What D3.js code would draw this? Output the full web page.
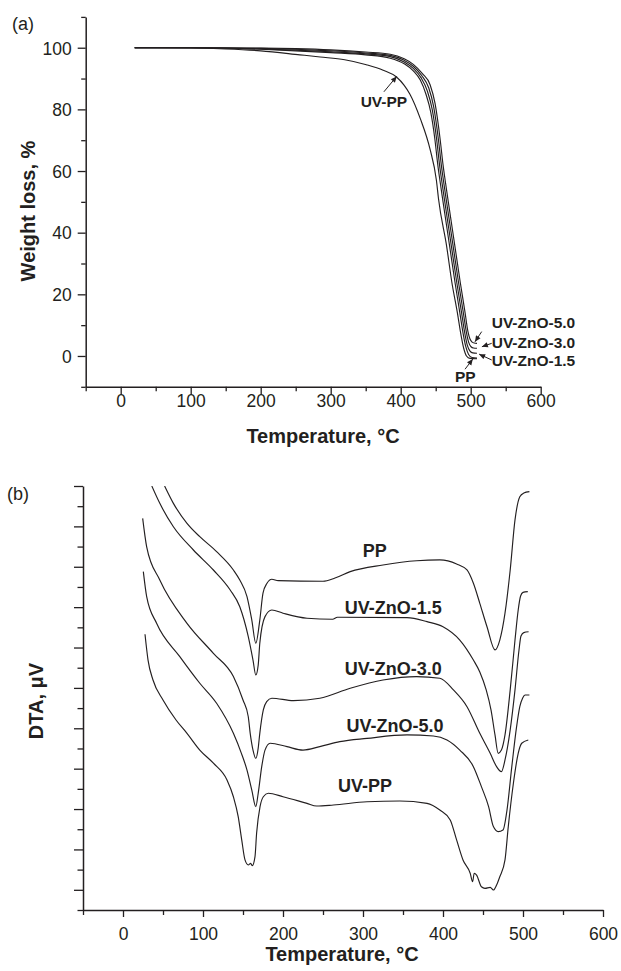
<!DOCTYPE html>
<html>
<head>
<meta charset="utf-8">
<script src="https://cdn.jsdelivr.net/npm/d3@7"></script>
<style>
  body { margin: 0; background: #fff; }
  svg { display: block; }
  text { font-family: "Liberation Sans", Arial, Helvetica, sans-serif; fill: #231f20; }
</style>
</head>
<body>
<svg id="fig" width="621" height="971"></svg>
<script>
// ---------- (a) TGA: temperature (°C) vs weight (%) ----------
const tgaPP = [[20,100],[100,100],[200,99.5],[250,99],[300,98.4],[350,97.7],[385,96.6],[405,94.8],[418,92.5],[428,89.5],[436,85],[443,79],[449,70],[453,62],[456,57],[460.5,50],[470,35.5],[477.5,24],[484.5,14],[489,7.5],[493,3],[497,0.5],[502,-0.5],[509,-0.7]];
const tgaZnO15 = [[20,100],[100,100],[200,99.6],[250,99.2],[300,98.7],[350,98],[385,97.1],[405,95.4],[418,93.3],[429,90.3],[438,86],[445,80],[451.5,70],[455.5,62],[458.5,57],[463,50],[472.5,35.5],[480,24],[487,14],[491.5,7.5],[495,3.6],[499,1.6],[503,1.0],[509,0.9]];
const tgaZnO30 = [[20,100],[100,100],[200,99.8],[250,99.5],[300,99],[350,98.3],[385,97.5],[405,95.9],[418,94],[430,91],[440,87],[447,81],[454,70],[458,62],[461,57],[465.5,50],[475,35.5],[482.5,24],[489.5,14],[494,7.5],[497,4.5],[500.5,3.0],[504,2.6],[509,2.5]];
const tgaZnO50 = [[20,100],[100,100],[200,99.9],[250,99.7],[300,99.3],[350,98.6],[385,97.9],[405,96.4],[418,94.6],[431,91.6],[442,88],[449,82],[456.5,70],[460.5,62],[463.5,57],[468,50],[477.5,35.5],[485,24],[492,14],[496,8],[499,5.5],[502,4.5],[505,4.2],[509,4.1]];
const tgaUVPP = [[20,100],[100,99.9],[150,99.6],[200,99],[256,97.7],[285,97],[320,96.1],[351,94.5],[375,92.7],[394,90.5],[405,87.8],[413,85],[428,77],[442,67],[451,57],[454,51],[465.7,35.5],[473,24],[481,14],[486,7],[490,2.5],[494,0],[499,-0.8],[509,-0.9]];

// ---------- (b) DTA: temperature (°C) vs signal (arbitrary tick units) ----------
const dtaPP = [[52,21.0],[63,20.14],[80,19.15],[96,18.49],[117,17.75],[138,16.84],[146,16.34],[155,15.52],[161,14.36],[166,13.21],[171,14.36],[175,15.69],[180,16.18],[186,16.38],[194,16.31],[250,16.28],[265,16.44],[284,16.76],[325,17.09],[367,17.30],[396,17.34],[417,17.14],[430,16.84],[438,16.18],[446,15.19],[455,14.03],[465,12.88],[471,13.37],[477.5,14.70],[484,16.84],[490,19.32],[496,20.47],[501,20.65],[508,20.72]];
const dtaZnO15 = [[36,21.0],[46,20.14],[63,18.98],[88,17.83],[113,16.84],[134,15.85],[146,15.02],[156.6,13.54],[162.5,12.38],[166,11.64],[169,12.13],[171,13.21],[177.5,14.53],[186,14.86],[200,14.70],[230,14.45],[262,14.40],[268,14.50],[355,14.48],[380,14.28],[400,14.03],[421,13.37],[438,12.38],[446,11.79],[454,10.90],[460,9.91],[465,8.67],[469,7.76],[473,7.92],[477.5,8.67],[484,10.90],[490,13.37],[494,14.86],[497,15.55],[500,15.73],[506,15.77]];
const dtaZnO30 = [[24.6,19.40],[29.6,17.99],[46,16.34],[80,14.20],[113,12.71],[138,11.56],[150,10.40],[156.6,9.57],[159,8.75],[162.5,7.92],[166,7.51],[169,8.02],[171,8.75],[175.4,9.91],[179.6,10.32],[186,10.49],[213,10.37],[246,10.49],[284,10.98],[325,11.39],[367,11.56],[396,11.48],[413,10.90],[430,10.07],[446,8.75],[459,7.76],[467,7.10],[473,6.85],[477.5,7.43],[484,8.92],[490,10.90],[495,12.88],[497.5,13.57],[501,13.74],[507,13.78]];
const dtaZnO50 = [[25.4,16.76],[29.6,15.52],[42,14.20],[71,12.55],[96,11.23],[117,10.24],[138,8.75],[148,7.76],[155,6.93],[161,5.94],[166,5.12],[169,5.78],[173.4,7.10],[177.5,7.92],[184,8.26],[205,8.09],[225,7.92],[246,8.09],[271,8.34],[305,8.50],[355,8.67],[388,8.62],[405,8.42],[421,7.92],[438,7.10],[448,6.11],[457,5.12],[463,4.13],[469,3.88],[475,3.96],[480,4.95],[486,7.10],[492,9.08],[496,10.07],[499.6,10.50],[502.5,10.65],[508,10.65]];
const dtaUVPP = [[27.5,13.66],[31.3,12.38],[37.5,11.39],[50,10.40],[66.3,9.41],[80,8.75],[96,7.92],[113,7.27],[130,6.44],[138,5.61],[144,4.62],[148.4,3.47],[152.5,2.48],[156.6,2.23],[159.6,2.31],[161.6,2.19],[165,2.64],[167,3.80],[171.3,5.12],[175.4,5.61],[181.6,5.78],[200,5.61],[230,5.28],[242,5.15],[263,5.20],[305,5.36],[346,5.40],[380,5.28],[396,4.95],[409,4.46],[417,3.47],[425,2.48],[434,1.82],[437,1.40],[439,1.82],[442,1.73],[448,1.15],[452.5,1.07],[459,1.12],[463,0.99],[467,1.24],[471,1.65],[477.5,2.48],[481.6,4.13],[488,6.28],[494,7.76],[498.4,8.26],[506.6,8.42]];

// ---------- tick values ----------
const tempTicks = [0, 100, 200, 300, 400, 500, 600];
const tempMinorTicks = [-50, 50, 150, 250, 350, 450, 550];
const weightTicks = [0, 20, 40, 60, 80, 100];
const weightMinorTicks = [-10, 10, 30, 50, 70, 90, 110];
const dtaMajorTicks = [1, 3, 5, 7, 9, 11, 13, 15, 17, 19, 21];
const dtaMinorTicks = [0, 2, 4, 6, 8, 10, 12, 14, 16, 18, 20];

const ink = '#231f20';
const svg = d3.select('#fig');

svg.append('defs').append('marker')
  .attr('id', 'arrowhead')
  .attr('viewBox', '0 0 10 10')
  .attr('refX', 10).attr('refY', 5)
  .attr('markerWidth', 7).attr('markerHeight', 6)
  .attr('markerUnits', 'userSpaceOnUse')
  .attr('orient', 'auto')
  .append('path').attr('d', 'M0,0.5 L10,5 L0,9.5 Z').attr('fill', ink);

function styleAxis(g, keepDomain) {
  g.attr('font-size', null).attr('font-family', null);
  g.selectAll('.tick line').attr('stroke', ink).attr('stroke-width', 1.3);
  if (keepDomain) g.select('path.domain').attr('stroke', ink).attr('stroke-width', 1.5);
  else g.select('path.domain').remove();
  g.selectAll('.tick text').attr('fill', ink).attr('font-size', 17.5);
}

function drawPanel(cfg) {
  const { x, y, xMajor, xMinor, yMajor, yMinor, yMajorLen, yMinorLen, xMajorLen, xMinorLen, yLabels, xLabelY } = cfg;
  const x0 = x.range()[0], yb = y.range()[0];

  // bottom axis
  svg.append('g').attr('transform', `translate(0,${yb})`)
    .call(d3.axisBottom(x).tickValues(xMinor).tickSize(xMinorLen).tickSizeOuter(0).tickFormat(''))
    .call(g => styleAxis(g, false));
  svg.append('g').attr('transform', `translate(0,${yb})`)
    .call(d3.axisBottom(x).tickValues(xMajor).tickSize(xMajorLen).tickSizeOuter(0).tickFormat(d3.format('d')))
    .call(g => styleAxis(g, true))
    .call(g => g.selectAll('.tick text').attr('y', xLabelY).attr('dy', null));

  // left axis
  svg.append('g').attr('transform', `translate(${x0},0)`)
    .call(d3.axisLeft(y).tickValues(yMinor).tickSize(yMinorLen).tickSizeOuter(0).tickFormat(''))
    .call(g => styleAxis(g, false));
  svg.append('g').attr('transform', `translate(${x0},0)`)
    .call(d3.axisLeft(y).tickValues(yMajor).tickSize(yMajorLen).tickSizeOuter(0).tickPadding(6)
      .tickFormat(yLabels ? d3.format('d') : ''))
    .call(g => styleAxis(g, true))
    .call(g => g.selectAll('.tick text').attr('dy', '0.36em'));
}

function drawCurves(x, y, series, clipId) {
  const [xa, xb] = x.range(), [ya, yb] = y.range();
  svg.select('defs').append('clipPath').attr('id', clipId)
    .append('rect').attr('x', xa).attr('y', yb).attr('width', xb - xa).attr('height', ya - yb);
  const line = d3.line().x(d => x(d[0])).y(d => y(d[1])).curve(d3.curveMonotoneX);
  svg.append('g').attr('clip-path', `url(#${clipId})`)
    .selectAll('path').data(series).join('path')
    .attr('d', line)
    .attr('fill', 'none')
    .attr('stroke', ink)
    .attr('stroke-width', 1.15)
    .attr('stroke-linejoin', 'round');
}

function label(txt, px, py, size, anchor) {
  svg.append('text').attr('x', px).attr('y', py)
    .attr('font-size', size).attr('font-weight', 'bold')
    .attr('text-anchor', anchor || 'start').text(txt);
}

function arrow(x1, y1, x2, y2) {
  svg.append('line').attr('x1', x1).attr('y1', y1).attr('x2', x2).attr('y2', y2)
    .attr('stroke', ink).attr('stroke-width', 1)
    .attr('marker-end', 'url(#arrowhead)');
}

// ===== Panel (a) =====
const xA = d3.scaleLinear().domain([-50, 600]).range([85.7, 540.7]);
const yA = d3.scaleLinear().domain([-10, 110]).range([386.8, 16.9]);

drawPanel({ x: xA, y: yA, xMajor: tempTicks, xMinor: tempMinorTicks,
  yMajor: weightTicks, yMinor: weightMinorTicks,
  yMajorLen: 8, yMinorLen: 4.5, xMajorLen: 8, xMinorLen: 4.5, yLabels: true, xLabelY: 19.8 });
drawCurves(xA, yA, [tgaPP, tgaZnO15, tgaZnO30, tgaZnO50, tgaUVPP], 'clipA');

// curve annotations
label('UV-PP', xA(376), yA(80.8), 15.5, 'middle');
arrow(xA(376), yA(85.7), xA(394.3), yA(90.7));
label('UV-ZnO-5.0', xA(530), yA(9.1), 15.5);
arrow(xA(515.7), yA(7.9), xA(506.1), yA(4.6));
label('UV-ZnO-3.0', xA(530), yA(2.6), 15.5);
arrow(xA(530), yA(4.1), xA(516), yA(3.0));
label('UV-ZnO-1.5', xA(530), yA(-3.1), 15.5);
arrow(xA(530), yA(-1.3), xA(512), yA(0.6));
label('PP', xA(477.6), yA(-8.3), 15.5);
arrow(xA(491.9), yA(-4.3), xA(503), yA(-1.0));

svg.append('text').attr('x', 12).attr('y', 30).attr('font-size', 18).text('(a)');
svg.append('text').attr('transform', 'translate(35,211) rotate(-90)')
  .attr('text-anchor', 'middle').attr('font-size', 20).attr('font-weight', 'bold')
  .text('Weight loss, %');
svg.append('text').attr('x', 323).attr('y', 443)
  .attr('text-anchor', 'middle').attr('font-size', 20).attr('font-weight', 'bold')
  .text('Temperature, °C');

// ===== Panel (b) =====
const xB = d3.scaleLinear().domain([-50, 600]).range([83, 603]);
const yB = d3.scaleLinear().domain([0, 21]).range([910, 486]);

drawPanel({ x: xB, y: yB, xMajor: tempTicks, xMinor: tempMinorTicks,
  yMajor: dtaMajorTicks, yMinor: dtaMinorTicks,
  yMajorLen: 9, yMinorLen: 5.5, xMajorLen: 7, xMinorLen: 5, yLabels: false, xLabelY: 30 });
drawCurves(xB, yB, [dtaPP, dtaZnO15, dtaZnO30, dtaZnO50, dtaUVPP], 'clipB');

label('PP', xB(314.6), yB(17.48), 18, 'middle');
label('UV-ZnO-1.5', xB(337.9), yB(14.66), 18, 'middle');
label('UV-ZnO-3.0', xB(337.9), yB(11.64), 18, 'middle');
label('UV-ZnO-5.0', xB(340), yB(8.83), 18, 'middle');
label('UV-PP', xB(302.5), yB(5.86), 18, 'middle');

svg.append('text').attr('x', 7).attr('y', 500).attr('font-size', 18).text('(b)');
svg.append('text').attr('transform', 'translate(43,701) rotate(-90)')
  .attr('text-anchor', 'middle').attr('font-size', 20).attr('font-weight', 'bold')
  .text('DTA, μV');
svg.append('text').attr('x', 342).attr('y', 961)
  .attr('text-anchor', 'middle').attr('font-size', 20).attr('font-weight', 'bold')
  .text('Temperature, °C');
</script>
</body>
</html>
